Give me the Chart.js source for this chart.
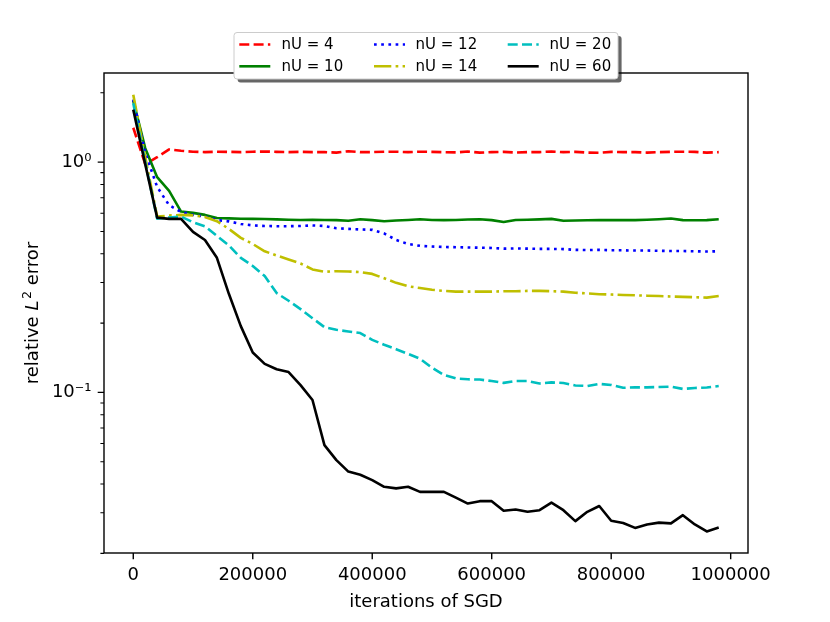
<!DOCTYPE html>
<html>
<head>
<meta charset="utf-8">
<script src="https://cdn.jsdelivr.net/npm/chart.js@4.4.1/dist/chart.umd.min.js"></script>
<style>
  html, body { margin: 0; padding: 0; background: #fff; }
</style>
</head>
<body>
<canvas id="c" width="830" height="622"></canvas>
<script>
// iterations of SGD (x values)
const iterations = [0, 20000, 40000, 60000, 80000, 100000, 120000, 140000, 160000, 180000,
  200000, 220000, 240000, 260000, 280000, 300000, 320000, 340000, 360000, 380000,
  400000, 420000, 440000, 460000, 480000, 500000, 520000, 540000, 560000, 580000,
  600000, 620000, 640000, 660000, 680000, 700000, 720000, 740000, 760000, 780000,
  800000, 820000, 840000, 860000, 880000, 900000, 920000, 940000, 960000, 980000];

// relative L2 error, one array per nU
const errNU4 = [1.41, 0.98, 1.05, 1.135, 1.12, 1.11, 1.105, 1.11, 1.108, 1.105,
  1.11, 1.112, 1.108, 1.105, 1.108, 1.105, 1.105, 1.1, 1.115, 1.105,
  1.105, 1.11, 1.11, 1.105, 1.11, 1.108, 1.105, 1.102, 1.112, 1.1,
  1.105, 1.108, 1.1, 1.105, 1.105, 1.112, 1.105, 1.108, 1.1, 1.098,
  1.108, 1.105, 1.105, 1.1, 1.105, 1.108, 1.11, 1.108, 1.1, 1.105];
const errNU10 = [1.85, 1.15, 0.86, 0.75, 0.61, 0.602, 0.59, 0.572, 0.57, 0.568,
  0.567, 0.566, 0.564, 0.562, 0.561, 0.562, 0.561, 0.56, 0.556, 0.565,
  0.56, 0.554, 0.558, 0.561, 0.565, 0.561, 0.56, 0.561, 0.563, 0.565,
  0.56, 0.55, 0.561, 0.562, 0.564, 0.567, 0.556, 0.558, 0.559, 0.56,
  0.561, 0.56, 0.56, 0.562, 0.565, 0.569, 0.56, 0.559, 0.56, 0.565];
const errNU12 = [1.87, 1.1, 0.78, 0.65, 0.608, 0.59, 0.58, 0.56, 0.553, 0.539,
  0.531, 0.528, 0.527, 0.527, 0.528, 0.531, 0.528, 0.516, 0.513, 0.51,
  0.508, 0.49, 0.459, 0.441, 0.433, 0.43, 0.428, 0.427, 0.426, 0.425,
  0.424, 0.421, 0.422, 0.421, 0.42, 0.42, 0.419, 0.416, 0.415, 0.416,
  0.414, 0.414, 0.413, 0.413, 0.412, 0.411, 0.411, 0.41, 0.409, 0.41];
const errNU14 = [1.96, 1.05, 0.58, 0.586, 0.59, 0.587, 0.578, 0.554, 0.513, 0.469,
  0.441, 0.41, 0.393, 0.378, 0.363, 0.342, 0.334, 0.336, 0.335, 0.333,
  0.327, 0.313, 0.299, 0.289, 0.284, 0.279, 0.276, 0.274, 0.274, 0.274,
  0.274, 0.275, 0.275, 0.276, 0.276, 0.275, 0.274, 0.271, 0.269, 0.267,
  0.266, 0.265, 0.264, 0.263, 0.262, 0.261, 0.26, 0.259, 0.258, 0.262];
const errNU20 = [1.8, 1.0, 0.568, 0.575, 0.58, 0.548, 0.526, 0.478, 0.435, 0.384,
  0.354, 0.32, 0.27, 0.25, 0.23, 0.21, 0.192, 0.187, 0.184, 0.181,
  0.169, 0.161, 0.154, 0.147, 0.14, 0.128, 0.119, 0.115, 0.114, 0.1137,
  0.112, 0.11, 0.112, 0.112, 0.1093, 0.1105, 0.1098, 0.1072, 0.1066, 0.1089,
  0.1077, 0.1047, 0.1052, 0.1052, 0.1055, 0.1059, 0.1035, 0.1045, 0.105, 0.1066];
const errNU60 = [1.69, 0.98, 0.574, 0.567, 0.567, 0.498, 0.459, 0.384, 0.268, 0.194,
  0.149, 0.133, 0.126, 0.1225, 0.1076, 0.0927, 0.059, 0.0508, 0.0453, 0.0439,
  0.0416, 0.0389, 0.0383, 0.0389, 0.037, 0.037, 0.037, 0.0349, 0.0329, 0.0337,
  0.0337, 0.0306, 0.031, 0.0303, 0.0308, 0.0332, 0.0308, 0.0276, 0.0303, 0.0321,
  0.0277, 0.0271, 0.0258, 0.0267, 0.0272, 0.027, 0.0293, 0.0267, 0.0249, 0.0259];

const seriesLabels = ['nU = 4', 'nU = 10', 'nU = 12', 'nU = 14', 'nU = 20', 'nU = 60'];

// ticks
const xTicks = [0, 200000, 400000, 600000, 800000, 1000000];
const yMajor = [0.1, 1];
const yTickLabels = ['10\u207B\u00B9', '10\u2070'];
const yMinor = [0.02, 0.03, 0.04, 0.05, 0.06, 0.07, 0.08, 0.09,
  0.2, 0.3, 0.4, 0.5, 0.6, 0.7, 0.8, 0.9, 2];

function pts(ys) {
  return iterations.map((x, i) => ({x: x, y: ys[i]}));
}

const styles = [
  {color: '#ff0000', dash: [10, 4.3]},
  {color: '#008000', dash: []},
  {color: '#0000ff', dash: [2.7, 4.5]},
  {color: '#bfbf00', dash: [17.3, 4.3, 2.7, 4.3]},
  {color: '#00bfbf', dash: [10, 4.3]},
  {color: '#000000', dash: []}
];
const allSeries = [errNU4, errNU10, errNU12, errNU14, errNU20, errNU60];

const datasets = allSeries.map((s, i) => ({
  label: seriesLabels[i],
  data: pts(s),
  borderColor: styles[i].color,
  borderDash: styles[i].dash,
  borderWidth: 2.6,
  borderJoinStyle: 'round',
  pointRadius: 0,
  tension: 0,
  fill: false,
  order: allSeries.length - 1 - i
}));

Chart.defaults.font.family = "'DejaVu Sans', sans-serif";
Chart.defaults.color = '#000';

// frame, tick marks, y axis title and legend, drawn like matplotlib
const axesDecor = {
  id: 'axesDecor',
  afterDatasetsDraw(chart) {
    const {ctx, chartArea: a, scales: {x, y}} = chart;
    ctx.save();
    ctx.setLineDash([]);
    ctx.strokeStyle = '#000';
    ctx.lineWidth = 1.4;
    ctx.strokeRect(a.left, a.top, a.right - a.left, a.bottom - a.top);

    ctx.beginPath();
    xTicks.forEach(v => {
      const px = x.getPixelForValue(v);
      ctx.moveTo(px, a.bottom);
      ctx.lineTo(px, a.bottom + 6.3);
    });
    yMajor.forEach(v => {
      const py = y.getPixelForValue(v);
      ctx.moveTo(a.left, py);
      ctx.lineTo(a.left - 6.3, py);
    });
    ctx.stroke();
    ctx.lineWidth = 1.1;
    ctx.beginPath();
    yMinor.forEach(v => {
      const py = y.getPixelForValue(v);
      ctx.moveTo(a.left, py);
      ctx.lineTo(a.left - 3.6, py);
    });
    ctx.stroke();

    // y title: relative L^2 error
    ctx.save();
    ctx.translate(38.3, (a.top + a.bottom) / 2);
    ctx.rotate(-Math.PI / 2);
    ctx.fillStyle = '#000';
    ctx.textBaseline = 'alphabetic';
    const fN = "18px 'DejaVu Sans'";
    const fI = "italic 18px 'DejaVu Sans'";
    const fS = "12.6px 'DejaVu Sans'";
    const parts = [['relative ', fN, 0], ['L', fI, 0], ['2', fS, -7.5], [' error', fN, 0]];
    let total = 0;
    parts.forEach(p => { ctx.font = p[1]; total += ctx.measureText(p[0]).width + (p[0] === '2' ? 1.5 : 0); });
    let cx = -total / 2;
    parts.forEach(p => {
      ctx.font = p[1];
      if (p[0] === '2') cx += 1.5;
      ctx.fillText(p[0], cx, p[2]);
      cx += ctx.measureText(p[0]).width;
    });
    ctx.restore();

    // legend
    const bx = 234, by = 32.5, bw = 384, bh = 46.5, r = 3;
    function box(x0, y0) {
      ctx.beginPath();
      ctx.roundRect(x0, y0, bw, bh, r);
    }
    ctx.fillStyle = 'rgba(0,0,0,0.6)';
    box(bx + 3.6, by + 3.6);
    ctx.fill();
    ctx.fillStyle = '#fff';
    box(bx, by);
    ctx.fill();
    ctx.strokeStyle = '#cccccc';
    ctx.lineWidth = 1;
    ctx.stroke();

    const lineX = [239.3, 374, 507.7];
    const textX = [281.5, 415.5, 549.5];
    const rowY = [44.5, 66.3];
    ctx.font = "15px 'DejaVu Sans'";
    ctx.textBaseline = 'middle';
    chart.data.datasets.forEach((ds, k) => {
      const col = Math.floor(k / 2), row = k % 2;
      const yy = rowY[row];
      ctx.strokeStyle = ds.borderColor;
      ctx.lineWidth = ds.borderWidth;
      ctx.setLineDash(ds.borderDash);
      ctx.beginPath();
      ctx.moveTo(lineX[col], yy);
      ctx.lineTo(lineX[col] + 31, yy);
      ctx.stroke();
      ctx.setLineDash([]);
      ctx.fillStyle = '#000';
      ctx.fillText(ds.label, textX[col], yy + 0.5);
    });
    ctx.restore();
  }
};

new Chart(document.getElementById('c'), {
  type: 'line',
  data: {datasets: datasets},
  options: {
    responsive: false,
    animation: false,
    devicePixelRatio: 1,
    layout: {padding: {top: 73, right: 82, left: 0, bottom: 0}},
    plugins: {legend: {display: false}, tooltip: {enabled: false}},
    scales: {
      x: {
        type: 'linear',
        min: -49000,
        max: 1029000,
        afterBuildTicks: s => { s.ticks = xTicks.map(v => ({value: v})); },
        afterFit: s => { s.height = 69; },
        grid: {display: false, drawTicks: false},
        border: {display: false},
        ticks: {
          font: {size: 18},
          color: '#000',
          padding: 12,
          maxRotation: 0,
          autoSkip: false,
          callback: v => String(v)
        },
        title: {
          display: true,
          text: 'iterations of SGD',
          font: {size: 18},
          color: '#000',
          padding: {top: 0, bottom: 9}
        }
      },
      y: {
        type: 'logarithmic',
        min: 0.02007,
        max: 2.438,
        afterBuildTicks: s => { s.ticks = yMajor.map(v => ({value: v})); },
        afterFit: s => { s.width = 104; },
        grid: {display: false, drawTicks: false},
        border: {display: false},
        ticks: {
          font: {size: 18},
          color: '#000',
          padding: 12.5,
          callback: (v, i) => yTickLabels[i]
        }
      }
    }
  },
  plugins: [axesDecor]
});
</script>
</body>
</html>
